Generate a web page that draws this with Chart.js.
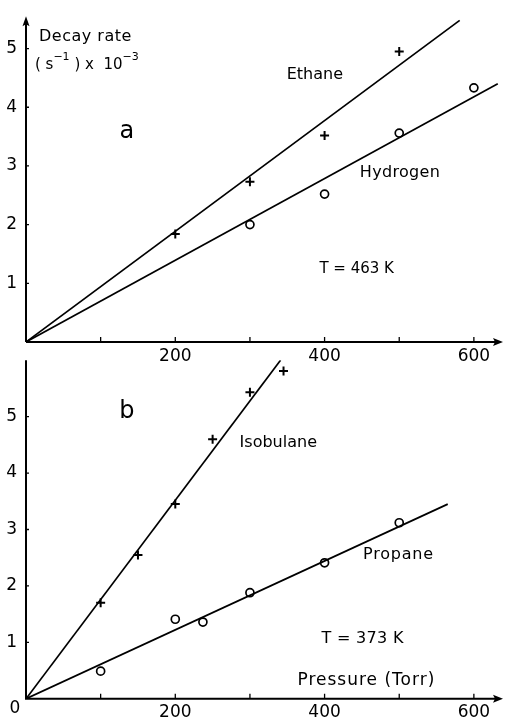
<!DOCTYPE html>
<html><head><meta charset="utf-8">
<script src="https://cdn.jsdelivr.net/npm/chart.js@4/dist/chart.umd.min.js"></script>
<style>
html,body{margin:0;padding:0;background:#fff;}
#wrap{position:relative;width:505px;height:718px;overflow:hidden;background:#fff;}
#ca{position:absolute;left:0;top:0;}
#cb{position:absolute;left:0;top:341px;}
</style></head><body>
<div id="wrap"><canvas id="ca" width="505" height="370"></canvas><canvas id="cb" width="505" height="377"></canvas></div>
<script>
// ---- data (pressure in Torr, decay rate in s^-1 x 10^-3) ----
const ethanePressure   = [200, 300, 400, 500];
const ethaneRate       = [1.84, 2.73, 3.52, 4.95];
const hydrogenPressure = [300, 400, 500, 600];
const hydrogenRate     = [2.00, 2.52, 3.56, 4.33];
const ethaneFitP   = [0, 581];  const ethaneFitR   = [0, 5.48];
const hydrogenFitP = [0, 632];  const hydrogenFitR = [0, 4.40];

const isobutanePressure = [100, 150, 200, 250, 300, 345];
const isobutaneRate     = [1.70, 2.55, 3.45, 4.60, 5.43, 5.81];
const propanePressure   = [100, 200, 237, 300, 400, 500];
const propaneRate       = [0.49, 1.41, 1.36, 1.88, 2.41, 3.12];
const isobutaneFitP = [0, 341]; const isobutaneFitR = [0, 6.00];
const propaneFitP   = [0, 565]; const propaneFitR   = [0, 3.45];

const xTickValues = [100, 200, 300, 400, 500, 600];
const xTickLabels = [200, 400, 600];
const yTickValues = [1, 2, 3, 4, 5];

const FONT = '"DejaVu Sans", sans-serif';
const pts = (xs, ys) => xs.map((x, i) => ({x, y: ys[i]}));

function lineDs(xs, ys) {
  return {data: pts(xs, ys), showLine: true, pointRadius: 0, borderColor: '#000', borderWidth: 1.7, order: 2};
}
function markDs(xs, ys, style) {
  return {data: pts(xs, ys), showLine: false, pointStyle: style,
    pointRadius: style === 'cross' ? 4.5 : 4, pointHoverRadius: 4,
    borderColor: '#000', backgroundColor: 'rgba(0,0,0,0)', pointBorderWidth: style === 'cross' ? 2 : 1.7, order: 1};
}

function makePlugin(cfg) {
  return {
    id: 'deco_' + cfg.name,
    afterDraw(chart) {
      const ctx = chart.ctx, xs = chart.scales.x, ys = chart.scales.y;
      const x0 = xs.getPixelForValue(0), y0 = ys.getPixelForValue(0);
      const top = chart.chartArea.top, right = chart.chartArea.right;
      ctx.save();
      ctx.strokeStyle = '#000'; ctx.fillStyle = '#000';
      // axes
      ctx.lineWidth = 2;
      ctx.beginPath();
      ctx.moveTo(x0, cfg.arrowY ? top + 2 : top); ctx.lineTo(x0, y0 + (cfg.name === 'b' ? 1 : 0));
      ctx.moveTo(x0, y0); ctx.lineTo(right - 2, y0);
      ctx.stroke();
      // arrow heads
      ctx.beginPath();
      ctx.moveTo(right + 3, y0); ctx.lineTo(right - 7, y0 - 4); ctx.lineTo(right - 5, y0); ctx.lineTo(right - 7, y0 + 4); ctx.closePath(); ctx.fill();
      if (cfg.arrowY) {
        ctx.beginPath();
        ctx.moveTo(x0, top - 3); ctx.lineTo(x0 - 3.5, top + 7); ctx.lineTo(x0, top + 5); ctx.lineTo(x0 + 3.5, top + 7); ctx.closePath(); ctx.fill();
      }
      // tick marks
      ctx.lineWidth = 1.3;
      ctx.beginPath();
      xTickValues.forEach(v => { const p = xs.getPixelForValue(v); ctx.moveTo(p, y0); ctx.lineTo(p, y0 - 5); });
      yTickValues.forEach(v => { const p = ys.getPixelForValue(v); ctx.moveTo(x0, p); ctx.lineTo(x0 + 3, p); });
      ctx.stroke();
      // text annotations
      cfg.notes.forEach(n => {
        const px = xs.getPixelForValue(n.x), py = ys.getPixelForValue(n.y);
        ctx.letterSpacing = (n.ls || 0) + 'px';
        if (n.rich) {
          let cx = px;
          ctx.textAlign = 'left'; ctx.textBaseline = 'alphabetic';
          n.rich.forEach(seg => {
            const sz = seg.sup ? 11 : n.size;
            ctx.font = sz + 'px ' + FONT;
            ctx.fillText(seg.t, cx, seg.sup ? py - 9 : py);
            cx += ctx.measureText(seg.t).width;
          });
        } else {
          ctx.font = n.size + 'px ' + FONT;
          ctx.textAlign = n.align || 'center'; ctx.textBaseline = 'middle';
          ctx.fillText(n.t, px, py);
        }
      });
      ctx.restore();
    }
  };
}

function makeChart(id, datasets, yMax, xAxisH, padTop, cfg) {
  return new Chart(document.getElementById(id), {
    type: 'scatter',
    data: {datasets},
    options: {
      responsive: false, animation: false, devicePixelRatio: 1,
      layout: {autoPadding: false, padding: {left: 0, top: padTop, right: 5, bottom: 0}},
      plugins: {legend: {display: false}, tooltip: {enabled: false}},
      scales: {
        x: {type: 'linear', min: 0, max: 635,
          afterBuildTicks: s => { s.ticks = xTickValues.map(v => ({value: v})); },
          afterFit: s => { s.height = xAxisH; },
          grid: {display: false, drawTicks: false}, border: {display: false},
          ticks: {padding: 4, color: '#000', font: {family: FONT, size: 17},
            callback: v => xTickLabels.includes(v) ? String(v) : ''}},
        y: {type: 'linear', min: 0, max: yMax,
          afterBuildTicks: s => { s.ticks = yTickValues.map(v => ({value: v})); },
          afterFit: s => { s.width = 26; },
          grid: {display: false, drawTicks: false}, border: {display: false},
          ticks: {padding: 9, color: '#000', font: {family: FONT, size: 17}}}
      }
    },
    plugins: [makePlugin(cfg)]
  });
}

makeChart('ca', [
  lineDs(ethaneFitP, ethaneFitR), lineDs(hydrogenFitP, hydrogenFitR),
  markDs(ethanePressure, ethaneRate, 'cross'), markDs(hydrogenPressure, hydrogenRate, 'circle')
], 5.5, 28, 13, {name: 'a', arrowY: true, notes: [
  {t: 'Decay rate', x: 17.4, y: 5.2, size: 16, ls: 0.5, align: 'left'},
  {rich: [{t: '( s'}, {t: '−1', sup: true}, {t: ' ) x  10'}, {t: '−3', sup: true}], x: 12, y: 4.65, size: 15},
  {t: 'a', x: 135, y: 3.58, size: 24},
  {t: 'Ethane', x: 387, y: 4.55, size: 16},
  {t: 'Hydrogen', x: 501, y: 2.88, size: 16, ls: 0.3},
  {t: 'T = 463 K', x: 443, y: 1.25, size: 15}
]});

makeChart('cb', [
  lineDs(isobutaneFitP, isobutaneFitR), lineDs(propaneFitP, propaneFitR),
  markDs(isobutanePressure, isobutaneRate, 'cross'), markDs(propanePressure, propaneRate, 'circle')
], 6, 19, 0, {name: 'b', arrowY: false, notes: [
  {t: 'b', x: 135, y: 5.08, size: 24},
  {t: 'Isobulane', x: 338, y: 4.54, size: 16},
  {t: 'Propane', x: 499, y: 2.55, size: 16, ls: 0.8},
  {t: 'T = 373 K', x: 451, y: 1.06, size: 16, ls: 0.3},
  {t: 'Pressure (Torr)', x: 456, y: 0.32, size: 17, ls: 1},
  {t: '0', x: -15, y: -0.17, size: 17}
]});
</script>
</body></html>
